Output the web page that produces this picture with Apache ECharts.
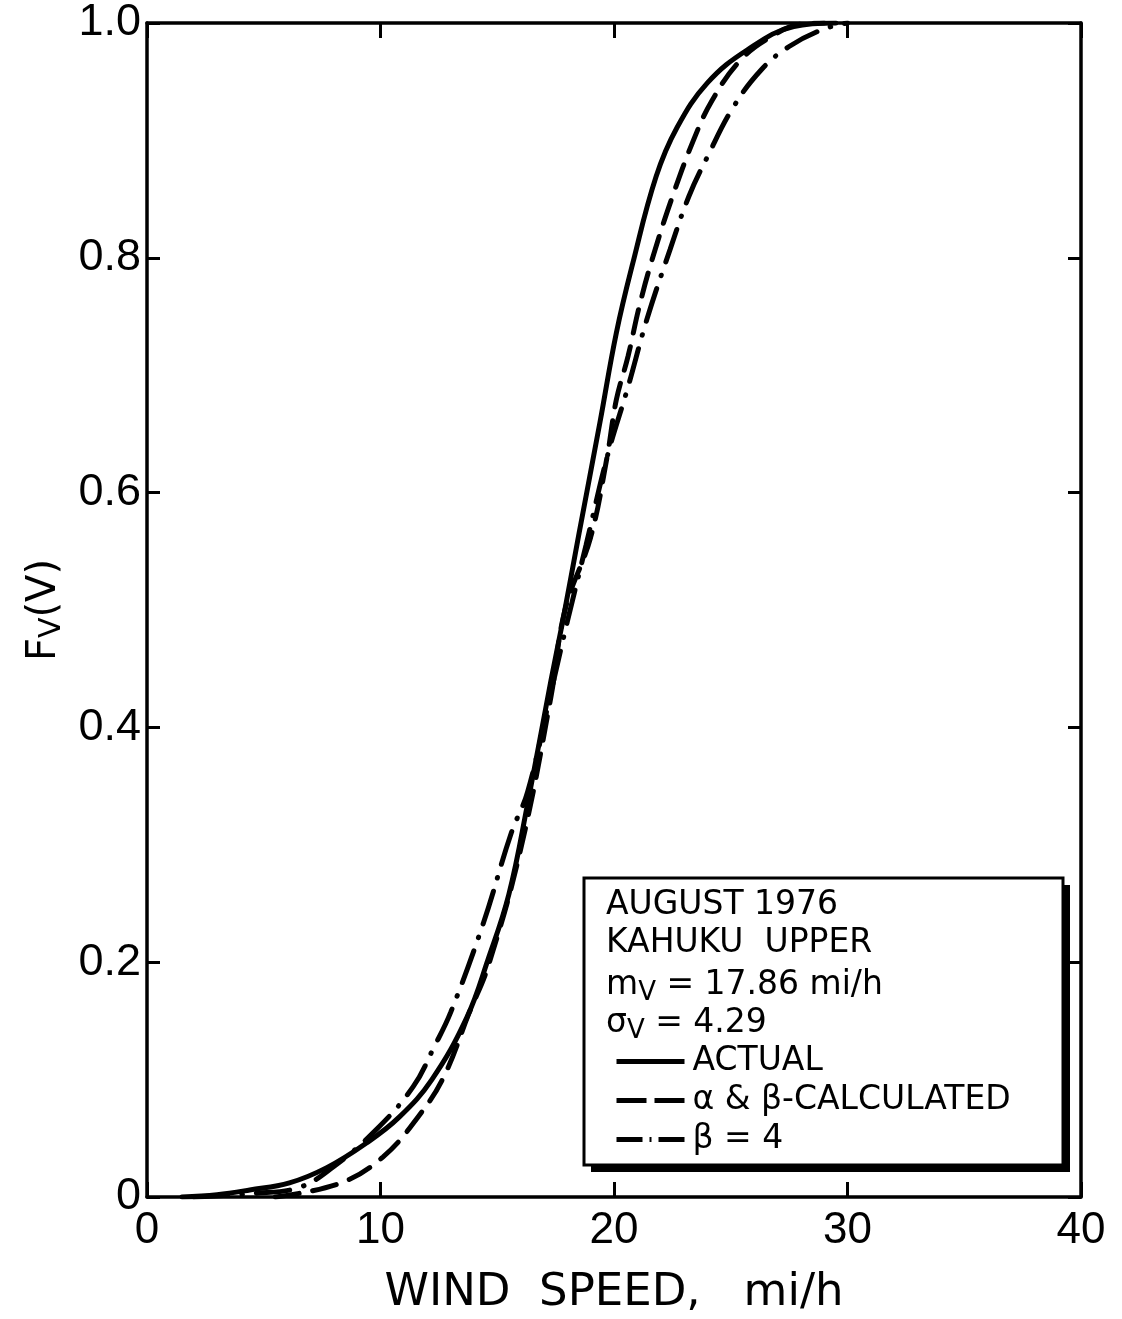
<!DOCTYPE html>
<html><head><meta charset="utf-8">
<script src="https://cdn.jsdelivr.net/npm/echarts@6/dist/echarts.min.js"></script>
<style>html,body{margin:0;padding:0;background:#fff}#c{width:1122px;height:1319px}</style>
</head><body><div id="c"></div>
<script>
// ---- data ----
const xTicks = [0, 10, 20, 30, 40];
const yTicks = [0, 0.2, 0.4, 0.6, 0.8, 1.0];

const actualX = [1.5, 3.0, 4.4, 6.1, 7.7, 9.4, 10.8, 12.2, 13.7, 14.6, 15.5, 16.3, 17.3, 17.8, 18.5, 19.4, 20.1, 20.8, 21.8, 22.7, 24.0, 25.7, 27.7, 29.5];
const actualY = [0, 0.002, 0.006, 0.012, 0.025, 0.046, 0.068, 0.100, 0.153, 0.202, 0.258, 0.335, 0.44, 0.49, 0.565, 0.66, 0.736, 0.795, 0.869, 0.911, 0.949, 0.977, 0.997, 1.0];

const calcX = [5.5, 8.3, 10.1, 11.6, 12.7, 13.8, 14.6, 16.0, 17.3, 17.9, 19.0, 19.7, 20.1, 20.6, 21.1, 21.7, 22.5, 23.4, 24.2, 25.4, 26.7, 28.0, 29.0];
const calcY = [0, 0.012, 0.034, 0.068, 0.102, 0.157, 0.196, 0.296, 0.426, 0.50, 0.562, 0.630, 0.679, 0.716, 0.760, 0.803, 0.852, 0.900, 0.934, 0.968, 0.988, 0.999, 1.0];

const beta4X = [2.0, 4.5, 6.5, 8.0, 9.8, 11.4, 12.3, 13.0, 14.4, 15.6, 16.3, 17.3, 18.0, 18.8, 19.7, 20.6, 21.4, 22.4, 23.2, 24.0, 25.1, 26.3, 27.5, 29.0, 30.0];
const beta4Y = [0, 0.003, 0.008, 0.026, 0.057, 0.094, 0.128, 0.157, 0.233, 0.310, 0.345, 0.43, 0.49, 0.555, 0.630, 0.690, 0.747, 0.807, 0.852, 0.886, 0.928, 0.960, 0.980, 0.995, 1.0];

const seriesNames = ['ACTUAL', 'α & β-CALCULATED', 'β = 4'];
const infoLines = ['AUGUST 1976', 'KAHUKU  UPPER'];
const meanText = '17.86 mi/h';
const sigmaText = '4.29';

function pairs(xs, ys) { return xs.map((x, i) => [x, ys[i]]); }

const chart = echarts.init(document.getElementById('c'), null, {renderer: 'canvas'});
const tickFont = 'Liberation Sans';
const lblFont = 'DejaVu Sans';
const axisLineStyle = {color: '#000', width: 3.5};
const dashType = [24, 14];
const dashDotType = [34, 14, 0.5, 14];

const option = {
  backgroundColor: '#fff',
  animation: false,
  grid: {left: 147, right: 41, top: 23, bottom: 122, containLabel: false, outerBoundsMode: 'none'},
  xAxis: [{
    type: 'value', min: 0, max: 40, interval: 10, position: 'bottom',
    name: 'WIND  SPEED,   mi/h', nameLocation: 'middle', nameGap: 74,
    nameTextStyle: {fontFamily: lblFont, fontSize: 45, color: '#000'},
    axisLine: {show: true, onZero: false, lineStyle: axisLineStyle},
    axisTick: {show: true, inside: true, length: 15, lineStyle: {color: '#000', width: 3}},
    axisLabel: {fontFamily: tickFont, fontSize: 44, color: '#000', margin: 12,
      formatter: v => xTicks.includes(v) ? String(v) : ''},
    splitLine: {show: false}
  }, {
    type: 'value', min: 0, max: 40, interval: 10, position: 'top',
    axisLine: {show: true, onZero: false, lineStyle: axisLineStyle},
    axisTick: {show: true, inside: true, length: 15, lineStyle: {color: '#000', width: 3}},
    axisLabel: {show: false}, splitLine: {show: false}
  }],
  yAxis: [{
    type: 'value', min: 0, max: 1, interval: 0.2, position: 'left',
    name: 'F{sub|V}(V)', nameLocation: 'middle', nameGap: 80, nameRotate: 90,
    nameTextStyle: {fontFamily: lblFont, fontSize: 40, color: '#000',
      rich: {sub: {fontFamily: lblFont, fontSize: 30, color: '#000', padding: [14, 0, 0, 0]}}},
    axisLine: {show: true, onZero: false, lineStyle: axisLineStyle},
    axisTick: {show: true, inside: true, length: 13, lineStyle: {color: '#000', width: 3}},
    axisLabel: {fontFamily: tickFont, fontSize: 45, color: '#000', margin: 6,
      formatter: v => v === 0 ? '0' : v.toFixed(1)},
    splitLine: {show: false}
  }, {
    type: 'value', min: 0, max: 1, interval: 0.2, position: 'right',
    axisLine: {show: true, onZero: false, lineStyle: axisLineStyle},
    axisTick: {show: true, inside: true, length: 13, lineStyle: {color: '#000', width: 3}},
    axisLabel: {show: false}, splitLine: {show: false}
  }],
  legend: {
    orient: 'vertical', left: 614, top: 1045, z: 20,
    itemWidth: 68, itemHeight: 20, itemGap: 6, padding: 0,
    selectedMode: false,
    itemStyle: {opacity: 0},
    lineStyle: {width: 5, color: '#000', cap: 'butt'},
    textStyle: {fontFamily: lblFont, fontSize: 33, color: '#000', lineHeight: 30, padding: [0, 0, 0, 3]},
    data: [
      {name: seriesNames[0], lineStyle: {type: 'solid'}},
      {name: seriesNames[1], lineStyle: {type: [30, 8]}},
      {name: seriesNames[2], lineStyle: {type: [26, 7, 2, 7]}}
    ]
  },
  series: [
    {name: seriesNames[0], type: 'line', data: pairs(actualX, actualY), smooth: 0.4,
      symbol: 'none', itemStyle: {color: '#000'}, lineStyle: {color: '#000', width: 5, cap: 'round'}},
    {name: seriesNames[1], type: 'line', data: pairs(calcX, calcY), smooth: 0.4,
      symbol: 'none', itemStyle: {color: '#000'}, lineStyle: {color: '#000', width: 5, type: dashType, cap: 'round'}},
    {name: seriesNames[2], type: 'line', data: pairs(beta4X, beta4Y), smooth: 0.4,
      symbol: 'none', itemStyle: {color: '#000'}, lineStyle: {color: '#000', width: 5, type: dashDotType, cap: 'round'}}
  ],
  graphic: [
    {type: 'rect', z: 10, shape: {x: 591, y: 885, width: 479, height: 287}, style: {fill: '#000'}},
    {type: 'rect', z: 11, shape: {x: 584, y: 878, width: 479, height: 287}, style: {fill: '#fff', stroke: '#000', lineWidth: 3}},
    {type: 'text', z: 12, x: 606, y: 905, style: {text: infoLines[0], font: '33px "DejaVu Sans"', fill: '#000', verticalAlign: 'middle'}},
    {type: 'text', z: 12, x: 606, y: 943, style: {text: infoLines[1], font: '33px "DejaVu Sans"', fill: '#000', verticalAlign: 'middle'}},
    {type: 'text', z: 12, x: 606, y: 985, style: {
      text: '{b|m}{s|V}{b| = ' + meanText + '}', verticalAlign: 'middle', fill: '#000',
      rich: {b: {fontFamily: lblFont, fontSize: 33, fill: '#000'}, s: {fontFamily: lblFont, fontSize: 26, fill: '#000', padding: [16, 0, 0, 0]}}}},
    {type: 'text', z: 12, x: 606, y: 1023, style: {
      text: '{b|σ}{s|V}{b| = ' + sigmaText + '}', verticalAlign: 'middle', fill: '#000',
      rich: {b: {fontFamily: lblFont, fontSize: 33, fill: '#000'}, s: {fontFamily: lblFont, fontSize: 26, fill: '#000', padding: [16, 0, 0, 0]}}}}
  ]
};
chart.setOption(option);
</script>
</body></html>
